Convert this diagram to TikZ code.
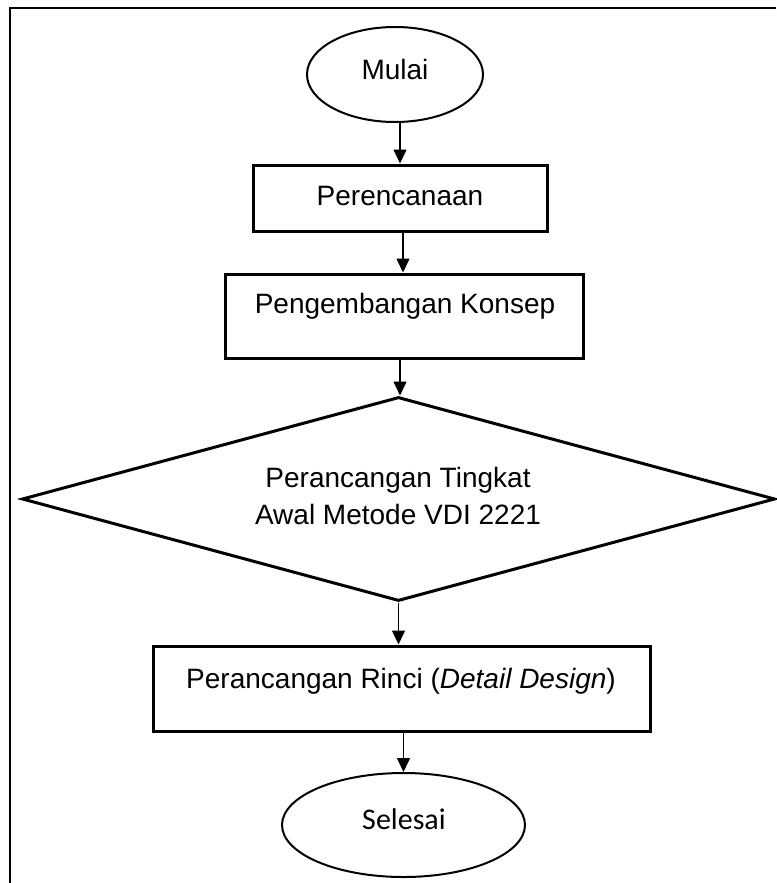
\documentclass[tikz,border=0pt]{standalone}
\usepackage{fontspec}
\setmainfont{Liberation Sans}
\newfontfamily\calib{Carlito}
\usetikzlibrary{shapes.geometric,arrows.meta}
\tikzset{
  boxnode/.style={draw,line width=3pt,rectangle,inner sep=0pt},
  termnode/.style={draw,line width=2pt,ellipse,inner sep=0pt},
  decnode/.style={draw,line width=3pt,diamond,inner sep=0pt},
  lbl/.style={anchor=base,inner sep=0pt,font=\fontsize{28}{33}\selectfont},
  arr/.style={line width=1.5pt,-{Triangle[length=14pt,width=13pt]}},
  frameline/.style={line width=2.5pt}
}
\begin{document}
\begin{tikzpicture}[x=1pt,y=-1pt]
\useasboundingbox (0,0) rectangle (776,883);
\fill[white] (0,0) rectangle (776,883);
% frame (only top and left edges visible)
\coordinate (fa) at (776,8);
\coordinate (fb) at (10,8);
\coordinate (fc) at (10,883);
\draw[frameline] (fa) -- (fb) -- (fc);
% shapes
\node[termnode,minimum width=176pt,minimum height=95pt] (mulai) at (395,74.5) {};
\node[boxnode,minimum width=294pt,minimum height=66pt] (per) at (400,198) {};
\node[boxnode,minimum width=358pt,minimum height=84pt] (konsep) at (404,316) {};
\node[decnode,minimum width=753pt,minimum height=204pt] (dia) at (398.5,499) {};
\node[boxnode,minimum width=497pt,minimum height=85pt] (rinci) at (401.5,688.5) {};
\node[termnode,minimum width=243pt,minimum height=104pt] (selesai) at (403.5,825) {};
% texts
\node[lbl] (tmulai) at (395,79) {Mulai};
\node[lbl] (tper) at (400,205) {Perencanaan};
\node[lbl] (tkonsep) at (405,313) {Pengembangan Konsep};
\node[lbl] (tdia1) at (398,487) {Perancangan Tingkat};
\node[lbl] (tdia2) at (398,524) {Awal Metode VDI 2221};
\node[lbl] (trinci) at (401,688) {Perancangan Rinci (\textit{Detail Design})};
\node[lbl,font=\calib\fontsize{30}{36}\selectfont] (tsel) at (404,829) {Selesai};
% connectors
\coordinate (k1) at ([xshift=-1pt]konsep.north);
\coordinate (k2) at ([xshift=-4pt]konsep.south);
\draw[arr] (per.north |- mulai.south) -- (per.north);
\draw[arr] (per.south -| k1) -- (k1);
\draw[arr] (k2) -- (dia.north -| k2);
\draw[arr] (dia.south) -- (dia.south |- rinci.north);
\draw[arr] (rinci.south -| selesai.north) -- (selesai.north);
\end{tikzpicture}
\end{document}
